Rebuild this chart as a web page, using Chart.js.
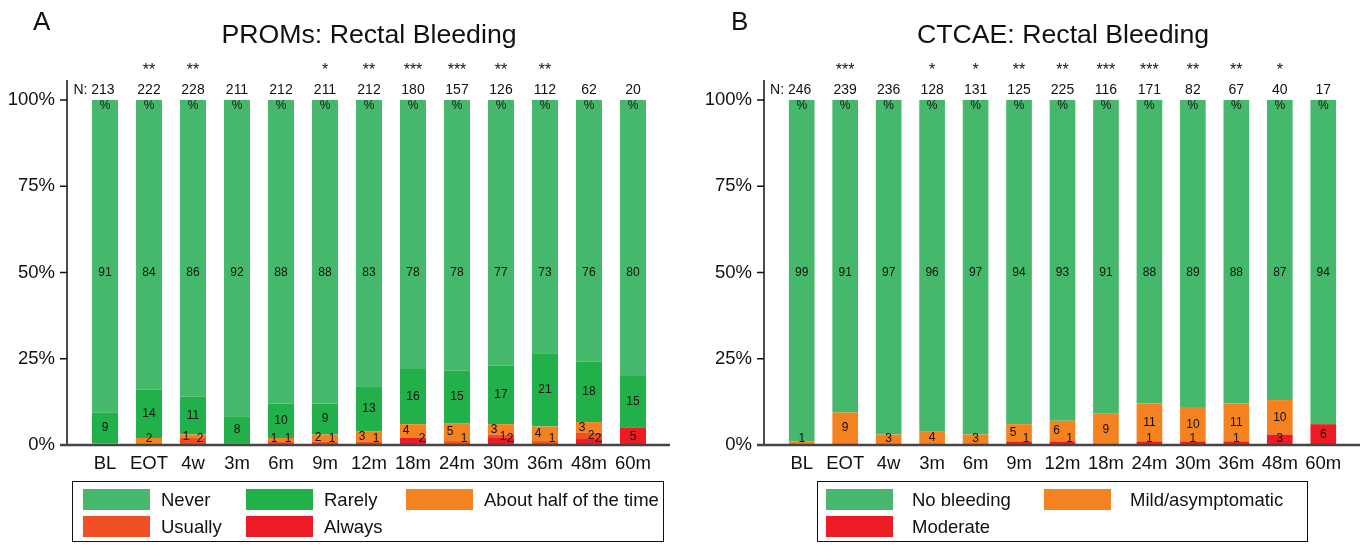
<!DOCTYPE html>
<html>
<head>
<meta charset="utf-8">
<script src="https://cdn.jsdelivr.net/npm/chart.js@4.4.1/dist/chart.umd.min.js"></script>
<style>
  body { margin: 0; background: #fff; font-family: "Liberation Sans", Arial, sans-serif; color: #111; }
  #page { position: relative; width: 1366px; height: 545px; overflow: hidden; }
  canvas { position: absolute; top: 0; }
  .letter { position: absolute; top: 6px; font-size: 26px; }
  .title { position: absolute; top: 19px; width: 500px; text-align: center; font-size: 26.7px; }
  .legend { position: absolute; top: 481px; height: 61px; border: 1.5px solid #111; box-sizing: border-box; }
  .item { position: absolute; font-size: 18.5px; line-height: 20px; white-space: nowrap; }
  .item span { position: absolute; left: 0; top: 0; width: 67px; height: 21px; }
  .item b { font-weight: normal; position: absolute; top: 1px; white-space: nowrap; }
</style>
</head>
<body>
<div id="page">
  <canvas id="promsChart" width="683" height="484" style="left:0"></canvas>
  <canvas id="ctcaeChart" width="683" height="484" style="left:683px"></canvas>

  <div class="letter" style="left:33px">A</div>
  <div class="title" style="left:119px">PROMs: Rectal Bleeding</div>
  <div class="letter" style="left:731px">B</div>
  <div class="title" style="left:813px">CTCAE: Rectal Bleeding</div>

  <div class="legend" id="legendA" style="left:72px; width:592px"></div>
  <div class="legend" id="legendB" style="left:817px; width:491px"></div>
</div>

<script>
// ---- data (percent of patients) ----
const categories = ["BL", "EOT", "4w", "3m", "6m", "9m", "12m", "18m", "24m", "30m", "36m", "48m", "60m"];

// A: PROMs
const promsN = [213, 222, 228, 211, 212, 211, 212, 180, 157, 126, 112, 62, 20];
const promsStars = ["", "**", "**", "", "", "*", "**", "***", "***", "**", "**", "", ""];
const promsNever = [90.6, 84, 86, 91.7, 88, 88, 83, 78, 78.4, 77, 73.4, 75.8, 80];
const promsRarely = [9, 14, 11, 8, 10, 9, 13, 16, 15.3, 17, 21.3, 17.6, 15];
const promsHalf = [0.4, 2, 1, 0.3, 1, 2, 3, 4, 5.2, 3, 4.2, 3.1, 0];
const promsUsually = [0, 0, 2, 0, 1, 1, 1, 0, 1.1, 1, 1.1, 1.8, 0];
const promsAlways = [0, 0, 0, 0, 0, 0, 0, 2, 0, 2, 0, 1.7, 5];

// B: CTCAE
const ctcaeN = [246, 239, 236, 128, 131, 125, 225, 116, 171, 82, 67, 40, 17];
const ctcaeStars = ["", "***", "", "*", "*", "**", "**", "***", "***", "**", "**", "*", ""];
const ctcaeNone = [99, 90.6, 97, 96, 97, 94, 93, 91, 88, 89, 88, 87, 94];
const ctcaeMild = [1, 9, 3, 4, 3, 5, 6, 9, 11, 10, 11, 10, 0];
const ctcaeModerate = [0, 0.4, 0, 0, 0, 1, 1, 0, 1, 1, 1, 3, 6];

const yTicks = [0, 25, 50, 75, 100];

// colours
const cNever = "#45b86b";
const cRarely = "#22b04b";
const cHalf = "#f58220";
const cUsually = "#f04e23";
const cAlways = "#ed1c24";

const FONT = "'Liberation Sans', Arial, sans-serif";

// x offset of a small-segment label (stata staggers them)
// A datasets: 0 Always, 1 Usually, 2 About half, 3 Rarely, 4 Never
function labelOffsetA(d, i) {
  const half = promsHalf[i], usu = promsUsually[i], alw = promsAlways[i];
  if (d === 2) return (usu + alw >= 1 && half < 6) ? -7 : 0;
  if (d === 1) return alw >= 1 ? 2 : 7;
  if (d === 0) return (half >= 1 || usu >= 1) ? 9 : 0;
  return 0;
}
// B datasets: 0 Moderate, 1 Mild, 2 No bleeding
function labelOffsetB(d, i) {
  const mild = ctcaeMild[i], mod = ctcaeModerate[i];
  if (d === 1) return (mod >= 1 && mild < 8) ? -6 : 0;
  if (d === 0) return (mild >= 1 && mild < 8) ? 7 : 0;
  return 0;
}

// draws the axis lines, N row, stars, "%" and segment labels
function annotations(nList, starList, offsetFn) {
  return {
    id: "annotations",
    afterDatasetsDraw(chart) {
      const ctx = chart.ctx;
      const area = chart.chartArea;
      const xs = chart.scales.x;
      const ys = chart.scales.y;
      const axisX = area.left - 16;
      const y0 = ys.getPixelForValue(0);

      ctx.save();
      // y axis + ticks
      ctx.strokeStyle = "#111";
      ctx.lineWidth = 1.5;
      ctx.beginPath();
      ctx.moveTo(axisX, 80);
      ctx.lineTo(axisX, y0);
      yTicks.forEach(t => {
        const py = ys.getPixelForValue(t);
        ctx.moveTo(axisX - 7, py);
        ctx.lineTo(axisX, py);
      });
      ctx.stroke();
      // x axis
      ctx.strokeStyle = "#444";
      ctx.lineWidth = 2.5;
      ctx.beginPath();
      ctx.moveTo(axisX - 7, y0);
      ctx.lineTo(area.right + 15, y0);
      ctx.stroke();

      ctx.fillStyle = "#111";
      ctx.textAlign = "center";
      ctx.textBaseline = "middle";

      // N and significance stars
      categories.forEach((c, i) => {
        const px = xs.getPixelForValue(i);
        ctx.font = "14px " + FONT;
        ctx.fillText(i === 0 ? "N: " + nList[i] : String(nList[i]), i === 0 ? px - 11 : px, 90);
        ctx.font = "16px " + FONT;
        if (starList[i]) ctx.fillText(starList[i], px, 71);
        ctx.font = "12px " + FONT;
        ctx.fillText("%", px, ys.getPixelForValue(100) + 6);
      });

      // segment values
      ctx.font = "12px " + FONT;
      chart.data.datasets.forEach((ds, d) => {
        ds.data.forEach((v, i) => {
          if (Math.round(v) < 1) return;
          const px = xs.getPixelForValue(i);
          let py;
          if (d === chart.data.datasets.length - 1) {
            py = ys.getPixelForValue(50);
          } else {
            let below = 0;
            for (let k = 0; k < d; k++) below += chart.data.datasets[k].data[i];
            py = ys.getPixelForValue(below + v / 2);
            py = Math.min(py, y0 - 6);
          }
          ctx.fillText(String(Math.round(v)), px + offsetFn(d, i), py);
        });
      });
      ctx.restore();
    }
  };
}

function makeChart(id, datasets, padRight, yWidth, nList, starList, offsetFn) {
  const ctx = document.getElementById(id).getContext("2d");
  return new Chart(ctx, {
    type: "bar",
    data: { labels: categories, datasets: datasets },
    options: {
      responsive: false,
      animation: false,
      layout: { padding: { top: 100, right: padRight, bottom: 0, left: 0 } },
      datasets: { bar: { categoryPercentage: 1, barPercentage: 0.59, borderWidth: 0 } },
      plugins: { legend: { display: false }, tooltip: { enabled: false } },
      scales: {
        x: {
          stacked: true,
          grid: { display: false, drawTicks: false },
          border: { display: false },
          ticks: { color: "#111", font: { size: 18.5, family: FONT }, padding: 8, maxRotation: 0, autoSkip: false },
          afterFit(axis) { axis.height = 31; }
        },
        y: {
          stacked: true,
          min: 0,
          max: 100,
          grid: { display: false, drawTicks: false },
          border: { display: false },
          afterBuildTicks(axis) { axis.ticks = yTicks.map(v => ({ value: v })); },
          ticks: { color: "#111", font: { size: 18.5, family: FONT }, padding: 28, callback: v => v + "%" },
          afterFit(axis) { axis.width = yWidth; }
        }
      }
    },
    plugins: [annotations(nList, starList, offsetFn)]
  });
}

// A: stacked from the bottom: Always, Usually, About half, Rarely, Never
makeChart("promsChart", [
  { label: "Always", data: promsAlways, backgroundColor: cAlways },
  { label: "Usually", data: promsUsually, backgroundColor: cUsually },
  { label: "About half of the time", data: promsHalf, backgroundColor: cHalf },
  { label: "Rarely", data: promsRarely, backgroundColor: cRarely },
  { label: "Never", data: promsNever, backgroundColor: cNever }
], 28, 83, promsN, promsStars, labelOffsetA);

// B: Moderate, Mild/asymptomatic, No bleeding
makeChart("ctcaeChart", [
  { label: "Moderate", data: ctcaeModerate, backgroundColor: cAlways },
  { label: "Mild/asymptomatic", data: ctcaeMild, backgroundColor: cHalf },
  { label: "No bleeding", data: ctcaeNone, backgroundColor: cNever }
], 21, 97, ctcaeN, ctcaeStars, labelOffsetB);

// legends (boxed, stata style)
function legend(id, items) {
  const box = document.getElementById(id);
  items.forEach(it => {
    const el = document.createElement("div");
    el.className = "item";
    el.style.left = it.x + "px";
    el.style.top = it.y + "px";
    el.innerHTML = '<span style="background:' + it.color + '"></span><b style="left:' + it.gap + 'px">' + it.text + "</b>";
    box.appendChild(el);
  });
}
legend("legendA", [
  { text: "Never", color: cNever, x: 10, y: 7, gap: 78 },
  { text: "Rarely", color: cRarely, x: 173, y: 7, gap: 78 },
  { text: "About half of the time", color: cHalf, x: 333, y: 7, gap: 78 },
  { text: "Usually", color: cUsually, x: 10, y: 34, gap: 78 },
  { text: "Always", color: cAlways, x: 173, y: 34, gap: 78 }
]);
legend("legendB", [
  { text: "No bleeding", color: cNever, x: 8, y: 7, gap: 86 },
  { text: "Mild/asymptomatic", color: cHalf, x: 226, y: 7, gap: 86 },
  { text: "Moderate", color: cAlways, x: 8, y: 34, gap: 86 }
]);
</script>
</body>
</html>
